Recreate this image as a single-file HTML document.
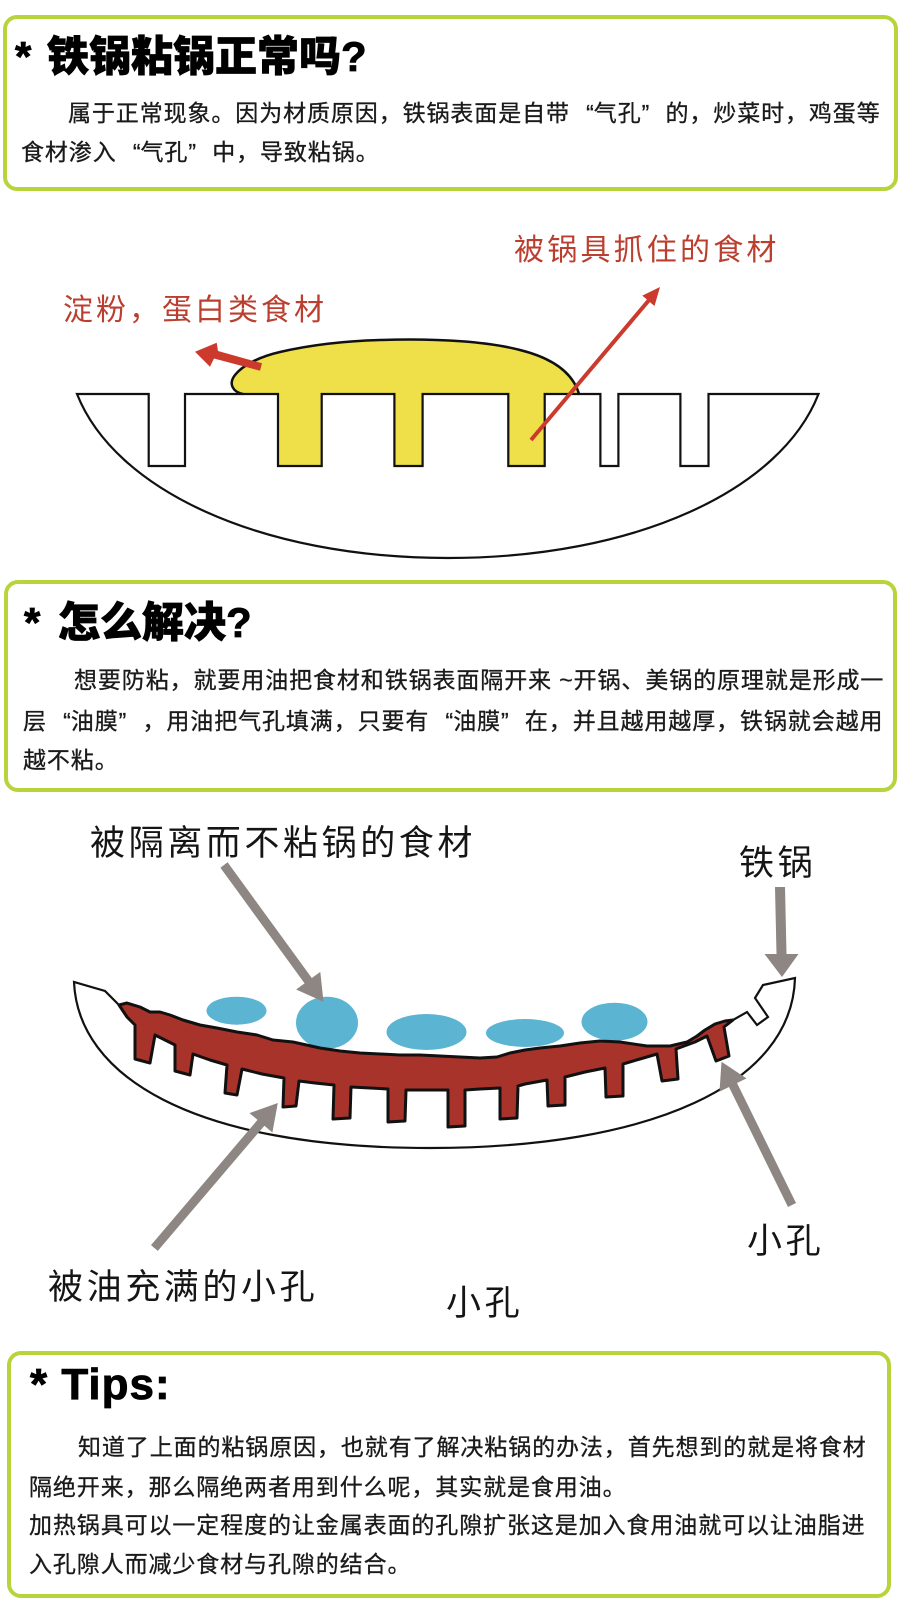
<!DOCTYPE html>
<html><head><meta charset="utf-8">
<style>
html,body{margin:0;padding:0;background:#fff;}
#page{position:relative;width:900px;height:1615px;overflow:hidden;background:#fff;}
.box{position:absolute;box-sizing:border-box;border:4px solid #b7d43c;border-radius:14px;background:#fff;}
.t{position:absolute;white-space:nowrap;font-family:"Liberation Sans","Noto Sans CJK SC",sans-serif;font-size:23px;line-height:23px;letter-spacing:0.9px;color:#1a1a1a;-webkit-text-stroke:0.3px #1a1a1a;}
.ql,.qr{display:inline-block;width:23.9px;letter-spacing:0;}
.ql{text-align:right;}
.qr{text-align:left;}
.h{position:absolute;white-space:nowrap;font-family:"Liberation Sans","Noto Sans CJK SC",sans-serif;font-size:42px;line-height:42px;font-weight:900;color:#000;-webkit-text-stroke:0.8px #000;}
.rl{position:absolute;white-space:nowrap;font-family:"Liberation Sans","Noto Sans CJK SC",sans-serif;font-size:30px;line-height:30px;letter-spacing:3.2px;color:#bb3f2f;}
.bl{position:absolute;white-space:nowrap;font-family:"Liberation Sans","Noto Sans CJK SC",sans-serif;font-size:35px;line-height:35px;letter-spacing:3.6px;color:#151515;}
</style></head>
<body>
<div id="page">
<svg width="900" height="1615" viewBox="0 0 900 1615" style="position:absolute;left:0;top:0">
  <!-- Diagram 1 -->
  <rect x="278" y="390" width="43.7" height="76" fill="#efe04a"/>
  <rect x="394.4" y="390" width="28.2" height="76" fill="#efe04a"/>
  <rect x="508.3" y="390" width="36.4" height="76" fill="#efe04a"/>
  <path d="M243,394 C233,392 228,384 235,375 C242,366 258,357 280,352 C310,345 345,341 380,340 C440,338 490,342 520,350 C548,357 572,370 579,394 Z" fill="#efe04a"/>
  <path d="M243,394 C233,392 228,384 235,375 C242,366 258,357 280,352 C310,345 345,341 380,340 C440,338 490,342 520,350 C548,357 572,370 579,394" fill="none" stroke="#111" stroke-width="2.5"/>
  <path d="M77,394 L148.7,394 L148.7,466 L185,466 L185,394 L278,394 L278,466 L321.7,466 L321.7,394 L394.4,394 L394.4,466 L422.6,466 L422.6,394 L508.3,394 L508.3,466 L544.7,466 L544.7,394 L600.4,394 L600.4,466 L618.4,466 L618.4,394 L680.4,394 L680.4,466 L708.5,466 L708.5,394 L818.5,394 C781,490 636,558 448,558 C260,558 115,490 77,394 Z" fill="none" stroke="#111" stroke-width="2.2" stroke-linejoin="miter"/>
  <polygon points="262,363.3 218,351 216.7,342.7 195,351.7 210,366.7 214,358.5 260,370.7" fill="#cc3a2d"/>
  <polygon points="532.5,441.3 649.9,302.1 654.5,306 660,287 642.3,295.6 646.9,299.5 529.5,438.7" fill="#cc3a2d"/>

  <!-- Diagram 2 -->
  <path d="M74,982 C78,1075 190,1148 430,1148 C650,1148 792,1085 795,978 L763,985 L755,998 L768,1017 L757,1025 L747,1012 L733,1020 L715,1028 L700,1039 L687,1044 L670,1049 L650,1053 L600,1056 L450,1068 L300,1058 L200,1038 L130,1015 L119,1005 L105,991 Z" fill="#fff" stroke="#111" stroke-width="2.2" stroke-linejoin="miter"/>
  <ellipse cx="236.5" cy="1010.7" rx="30" ry="14" fill="#5ab4d2"/>
  <ellipse cx="327" cy="1022.7" rx="31" ry="26" fill="#5ab4d2"/>
  <ellipse cx="426.5" cy="1032" rx="40" ry="18" fill="#5ab4d2"/>
  <ellipse cx="525" cy="1033" rx="39" ry="14" fill="#5ab4d2"/>
  <ellipse cx="614.5" cy="1021.7" rx="33" ry="19" fill="#5ab4d2"/>
  <path d="M119,1005 L127,1003 L140,1007 L150,1012 L160,1012 L170,1015 L183,1020 L200,1025 L217,1028 L237,1032 L257,1035 L273,1040 L293,1042 L320,1048 L340,1051 L360,1053 L380,1054 L400,1055 L420,1055 L440,1056 L460,1057 L480,1058 L497,1057 L510,1053 L525,1050 L540,1048 L560,1046 L580,1043 L600,1041 L620,1042 L647,1046 L670,1046 L687,1042 L697,1036 L705,1030 L715,1024 L725,1021 L733,1020 L724,1027 L729,1056 L716,1061 L707,1036 L695,1042 L676,1049 L678,1079 L662,1081 L657,1054 L640,1059 L623,1064 L623,1096 L606,1097 L605,1068 L585,1072 L565,1077 L565,1105 L548,1106 L547,1080 L525,1084 L518,1086 L517,1118 L500,1119 L500,1088 L480,1089 L465,1090 L465,1126 L448,1127 L448,1090 L425,1090 L406,1090 L405,1121 L388,1122 L388,1089 L370,1088 L351,1087 L350,1118 L333,1119 L334,1085 L315,1083 L299,1081 L296,1106 L283,1107 L284,1078 L262,1074 L242,1069 L237,1095 L225,1093 L227,1065 L210,1060 L193,1054 L190,1075 L175,1071 L175,1045 L165,1040 L155,1035 L150,1063 L135,1059 L135,1025 L127,1017 Z" fill="#a8332b" stroke="#111" stroke-width="3" stroke-linejoin="round"/>
  <!-- gray arrows -->
  <polygon points="227.6,862.3 311.8,978.05 320.3,971.9 323.5,1001.7 296.1,989.5 304.6,983.35 220.4,867.7" fill="#8d8682"/>
  <polygon points="775,887 785,887 786.5,954 798.5,954 782,977 764.5,954 776.5,954" fill="#8d8682"/>
  <polygon points="151,1245.1 257.5,1119.9 249.5,1113.1 277.8,1103 272.4,1132.5 264.4,1125.7 157.8,1250.9" fill="#8d8682"/>
  <polygon points="796,1203 737,1083 746.5,1078.4 721.5,1061.7 719.5,1091.6 729,1087 788,1207" fill="#8d8682"/>
</svg>

<!-- Box 1 -->
<div class="box" style="left:3px;top:15px;width:895px;height:176px"></div>
<div class="h" style="left:15px;top:36px">*</div>
<div class="h" style="left:47px;top:36px">铁锅粘锅正常吗?</div>
<div class="t" style="left:68px;top:102px">属于正常现象。因为材质原因，铁锅表面是自带<span class="ql">“</span>气孔<span class="qr">”</span>的，炒菜时，鸡蛋等</div>
<div class="t" style="left:21px;top:141px">食材渗入<span class="ql">“</span>气孔<span class="qr">”</span>中，导致粘锅。</div>

<!-- Diagram 1 labels -->
<div class="rl" style="left:514px;top:236px">被锅具抓住的食材</div>
<div class="rl" style="left:63px;top:296px;letter-spacing:3px">淀粉，蛋白类食材</div>

<!-- Box 2 -->
<div class="box" style="left:4px;top:580px;width:893px;height:212px"></div>
<div class="h" style="left:24px;top:602px">*</div>
<div class="h" style="left:58px;top:602px">怎么解决?</div>
<div class="t" style="left:74px;top:669px">想要防粘，就要用油把食材和铁锅表面隔开来 ~开锅、美锅的原理就是形成一</div>
<div class="t" style="left:23px;top:710px">层<span class="ql">“</span>油膜<span class="qr">”</span>，用油把气孔填满，只要有<span class="ql">“</span>油膜<span class="qr">”</span>在，并且越用越厚，铁锅就会越用</div>
<div class="t" style="left:23px;top:749px">越不粘。</div>

<!-- Diagram 2 labels -->
<div class="bl" style="left:90px;top:826px">被隔离而不粘锅的食材</div>
<div class="bl" style="left:739px;top:846px">铁锅</div>
<div class="bl" style="left:747px;top:1224px">小孔</div>
<div class="bl" style="left:48px;top:1270px">被油充满的小孔</div>
<div class="bl" style="left:446px;top:1286px">小孔</div>

<!-- Tips box -->
<div class="box" style="left:7px;top:1351px;width:884px;height:247px"></div>
<div class="h" style="left:30px;top:1363px;font-size:44px;line-height:44px;letter-spacing:1px;font-weight:bold">* Tips:</div>
<div class="t" style="left:78px;top:1436px">知道了上面的粘锅原因，也就有了解决粘锅的办法，首先想到的就是将食材</div>
<div class="t" style="left:29px;top:1476px">隔绝开来，那么隔绝两者用到什么呢，其实就是食用油。</div>
<div class="t" style="left:29px;top:1514px">加热锅具可以一定程度的让金属表面的孔隙扩张这是加入食用油就可以让油脂进</div>
<div class="t" style="left:29px;top:1553px">入孔隙人而减少食材与孔隙的结合。</div>
</div>
</body></html>
